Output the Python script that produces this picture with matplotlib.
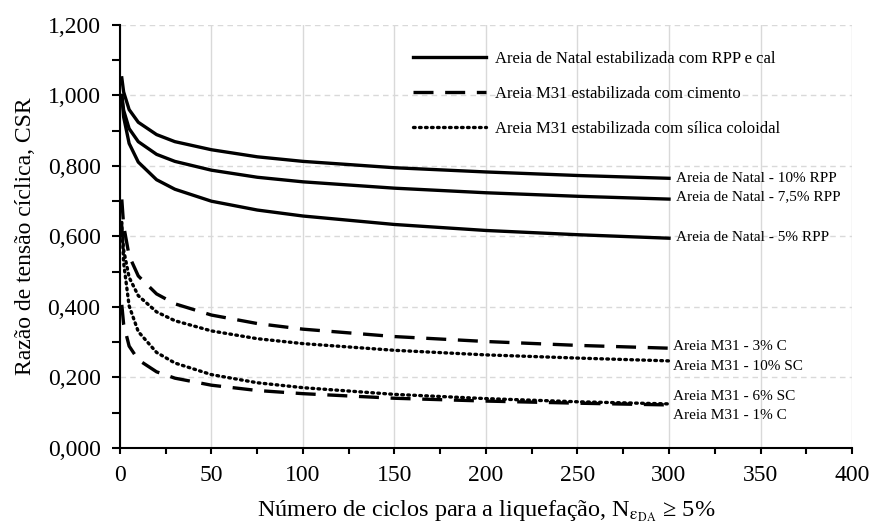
import matplotlib
matplotlib.use('Agg')
import matplotlib.pyplot as plt
from matplotlib.ticker import MultipleLocator, FuncFormatter

plt.rcParams['font.family'] = ['Liberation Serif', 'DejaVu Serif']
plt.rcParams['mathtext.fontset'] = 'stix'

# numero de ciclos
N = [1, 2, 5, 10, 20, 30, 50, 75, 100, 150, 200, 250, 300]

# Areia de Natal + RPP e cal
natal_10 = [1.050, 1.010, 0.960, 0.924, 0.889, 0.869, 0.846, 0.826, 0.813, 0.795, 0.783, 0.773, 0.765]
natal_75 = [1.000, 0.958, 0.906, 0.869, 0.833, 0.813, 0.788, 0.768, 0.755, 0.737, 0.724, 0.714, 0.706]
natal_5 = [1.000, 0.939, 0.864, 0.811, 0.761, 0.734, 0.700, 0.675, 0.658, 0.634, 0.617, 0.605, 0.595]

# Areia M31 + cimento
m31_3c = [0.705, 0.631, 0.545, 0.488, 0.437, 0.409, 0.377, 0.353, 0.337, 0.316, 0.302, 0.291, 0.283]
m31_1c = [0.406, 0.351, 0.289, 0.250, 0.216, 0.198, 0.178, 0.163, 0.154, 0.141, 0.133, 0.127, 0.122]

# Areia M31 + silica coloidal
m31_10sc = [0.630, 0.562, 0.484, 0.432, 0.386, 0.361, 0.332, 0.310, 0.296, 0.277, 0.264, 0.255, 0.247]
m31_6sc = [0.640, 0.525, 0.403, 0.330, 0.271, 0.241, 0.208, 0.185, 0.171, 0.152, 0.140, 0.131, 0.125]

fig = plt.figure(figsize=(8.77, 5.27), dpi=100)
ax = fig.add_axes([0.1368, 0.150, 0.8347, 0.8026])

lw = 2.4
dash = (0, (6, 3.5))
dot = (0, (0.5, 1.3))
ax.plot(N, natal_10, color='black', lw=lw, label='Areia de Natal estabilizada com RPP e cal')
ax.plot(N, natal_75, color='black', lw=lw)
ax.plot(N, natal_5, color='black', lw=lw)
ax.plot(N, m31_3c, color='black', lw=lw, linestyle=dash, label='Areia M31 estabilizada com cimento')
ax.plot(N, m31_1c, color='black', lw=lw, linestyle=dash)
ax.plot(N, m31_10sc, color='black', lw=lw, linestyle=dot, dash_capstyle='round',
        label='Areia M31 estabilizada com sílica coloidal')
ax.plot(N, m31_6sc, color='black', lw=lw, linestyle=dot, dash_capstyle='round')

# rotulos das curvas
lab_fs = 11
ax.text(304, 0.765, 'Areia de Natal - 10% RPP', fontsize=lab_fs, va='center')
ax.text(304, 0.712, 'Areia de Natal - 7,5% RPP', fontsize=lab_fs, va='center')
ax.text(304, 0.598, 'Areia de Natal - 5% RPP', fontsize=lab_fs, va='center')
ax.text(302, 0.287, 'Areia M31 - 3% C', fontsize=lab_fs, va='center')
ax.text(302, 0.230, 'Areia M31 - 10% SC', fontsize=lab_fs, va='center')
ax.text(302, 0.145, 'Areia M31 - 6% SC', fontsize=lab_fs, va='center')
ax.text(302, 0.091, 'Areia M31 - 1% C', fontsize=lab_fs, va='center')

ax.set_xlim(0, 400)
ax.set_ylim(0, 1.2)
ax.xaxis.set_major_locator(MultipleLocator(50))
ax.xaxis.set_minor_locator(MultipleLocator(25))
ax.yaxis.set_major_locator(MultipleLocator(0.2))
ax.yaxis.set_minor_locator(MultipleLocator(0.1))
ax.yaxis.set_major_formatter(FuncFormatter(lambda v, p: f'{v:,.3f}'.replace('.', ',')))

ax.grid(True, axis='x', which='major', color='#d9d9d9', lw=1.0, linestyle='-')
ax.grid(True, axis='y', which='major', color='#d9d9d9', lw=1.0, linestyle=(0, (4, 3)))
ax.set_axisbelow(True)

for s in ['top', 'right']:
    ax.spines[s].set_visible(False)
for s in ['left', 'bottom']:
    ax.spines[s].set_linewidth(1.5)
ax.tick_params(axis='y', which='both', direction='out', length=6, width=1.5, labelsize=17, pad=8)
ax.tick_params(axis='x', which='both', direction='out', length=4, width=1.5, labelsize=17, pad=8)

ax.set_ylabel('Razão de tensão cíclica, CSR', fontsize=17, labelpad=8)
ax.set_xlabel(r'Número de ciclos para a liquefação, N$_{\mathrm{ε}_{\mathrm{DA}}}$ ≥ 5%',
              fontsize=17.5, labelpad=9)

ax.legend(loc='upper left', bbox_to_anchor=(0.38, 0.975), frameon=False, fontsize=12,
          handlelength=4.4, handletextpad=0.5, labelspacing=1.15)

fig.savefig('out.png', dpi=100)
